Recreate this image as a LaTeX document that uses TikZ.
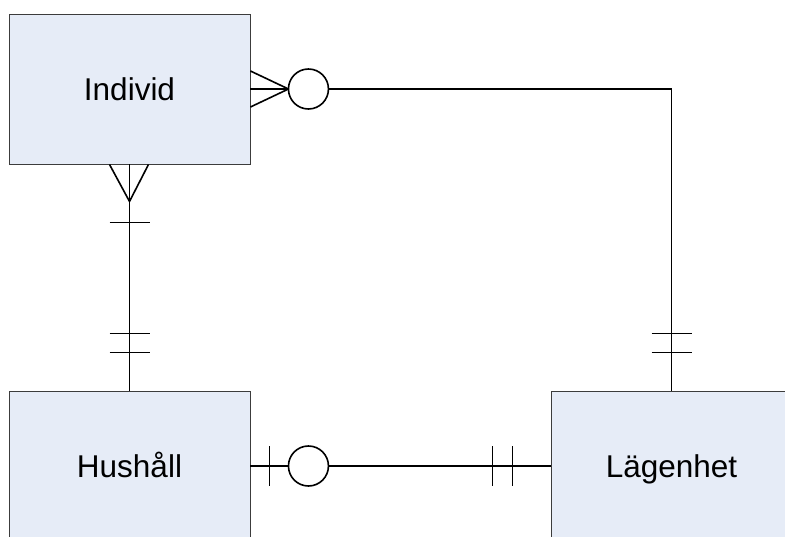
\documentclass[tikz,border=0pt]{standalone}
\usepackage{fontspec}
\setmainfont{Liberation Sans}
\usetikzlibrary{calc}
\definecolor{boxfill}{RGB}{230,236,247}
\definecolor{boxline}{RGB}{60,60,60}
\begin{document}
\begin{tikzpicture}[x=1pt,y=-1pt,
  entity/.style={draw=boxline, fill=boxfill, line width=0.9pt, minimum width=241pt, minimum height=150pt, inner sep=0pt, text height=22.5pt, text depth=0pt, font=\fontsize{31.5}{36}\selectfont},
  conn/.style={line width=1.6pt, black},
  ring/.style={line width=1.6pt, black, fill=white}]
\useasboundingbox (0,0) rectangle (785,536);
\clip (0,0) rectangle (785,536);
\fill[white] (0,0) rectangle (785,536);
\node[entity] (ind) at (129.5,89) {Individ};
\node[entity] (hus) at (129.5,466) {Hushåll};
\node[entity, minimum width=281pt, text width=241pt, align=center, xshift=20pt] (lagbox) at (671.5,466) {\hspace*{-0pt}};
\node[inner sep=0pt, text height=22.5pt, text depth=0pt, font=\fontsize{31.5}{36}\selectfont] (lag) at (671.5,466) {Lägenhet};
\coordinate (lagtop) at (lag |- lagbox.north);
\coordinate (lagleft) at (lagbox.west |- lag);
% Individ -- Lagenhet
\coordinate (bend) at (lagtop |- ind.east);
\draw[conn] ($(ind.east)+(78,0)$) -- (bend) -- (lagtop);
\draw[conn] (ind.east) -- ($(ind.east)+(38,0)$);
\draw[conn] ($(ind.east)+(0,-18)$) -- ($(ind.east)+(38,0)$) -- ($(ind.east)+(0,18)$);
\draw[ring] ($(ind.east)+(58,0)$) circle (20);
\draw[conn] ($(lagtop)+(-20,-57)$) -- ++(40,0);
\draw[conn] ($(lagtop)+(-20,-38)$) -- ++(40,0);
% Individ -- Hushall
\draw[conn] (ind.south) -- (hus.north);
\draw[conn] ($(ind.south)+(-20,0)$) -- ($(ind.south)+(0,37)$) -- ($(ind.south)+(19,0)$);
\draw[conn] ($(ind.south)+(-20,58)$) -- ++(40,0);
\draw[conn] ($(hus.north)+(-20,-57)$) -- ++(40,0);
\draw[conn] ($(hus.north)+(-20,-38)$) -- ++(40,0);
% Hushall -- Lagenhet
\draw[conn] (hus.east) -- (lagleft);
\draw[conn] ($(hus.east)+(19,-20)$) -- ++(0,40);
\draw[ring] ($(hus.east)+(58,0)$) circle (20);
\draw[conn] ($(lagleft)+(-58,-20)$) -- ++(0,40);
\draw[conn] ($(lagleft)+(-38,-20)$) -- ++(0,40);
\end{tikzpicture}
\end{document}
